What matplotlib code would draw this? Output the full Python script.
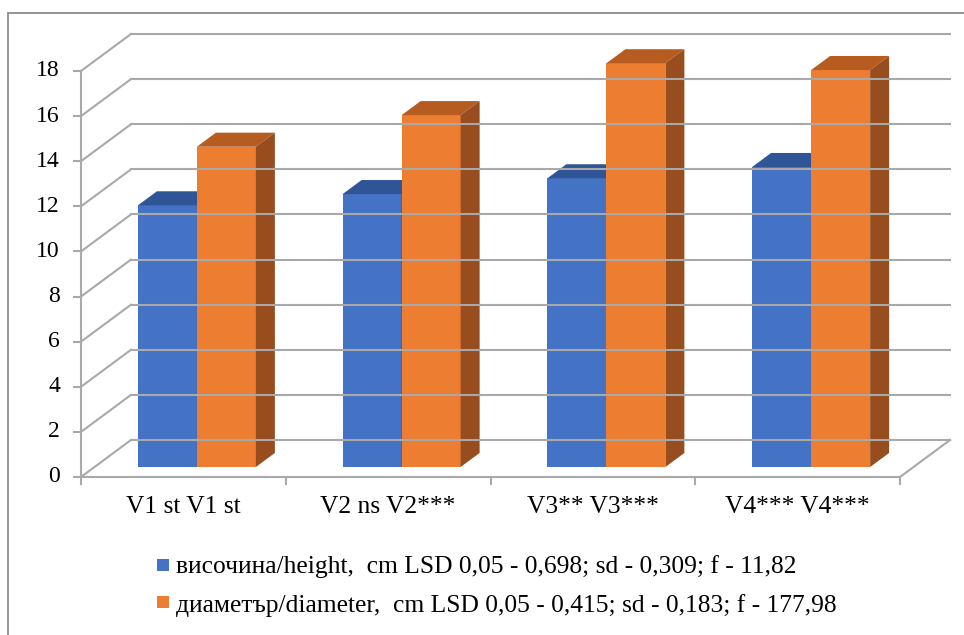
import matplotlib.pyplot as plt
from matplotlib.patches import Polygon, Rectangle

categories = ['V1 st V1 st', 'V2 ns V2***', 'V3** V3***', 'V4*** V4***']
height_cm = [11.6, 12.1, 12.8, 13.3]
diameter_cm = [14.2, 15.6, 17.9, 17.6]
series_labels = ['височина/height,  cm LSD 0,05 - 0,698; sd - 0,309; f - 11,82',
                 'диаметър/diameter,  cm LSD 0,05 - 0,415; sd - 0,183; f - 177,98']
yticks = list(range(0, 20, 2))

plt.rcParams['font.family'] = ['Liberation Serif', 'DejaVu Serif']

W, H = 964, 635
fig = plt.figure(figsize=(W / 100, H / 100), dpi=100)
ax = fig.add_axes([81 / W, (H - 477) / H, 819 / W, 406 / H])
ax.set_xlim(-0.5, 3.5)
ax.set_ylim(0, 18)
ax.axis('off')

# pixel -> data factors for the fake 3d depth
sx = 4 / 819
sy = 18 / 406
depth_x, depth_y = 50 * sx, 37 * sy

grid_c = '#a9a9a9'
lw = 1.5

# back wall + left wall gridlines
for v in yticks:
    ax.plot([-0.5, -0.5 + depth_x], [v, v + depth_y], color=grid_c, lw=lw, clip_on=False)
    ax.plot([-0.5 + depth_x, 3.5 + depth_x], [v + depth_y, v + depth_y],
            color=grid_c, lw=lw, clip_on=False)
    ax.plot([-0.5 - 7 * sx, -0.5], [v, v], color=grid_c, lw=lw, clip_on=False)
    ax.text(-0.5 - 21 * sx, v, str(v), ha='right', va='center', fontsize=17)

# floor and axes
ax.plot([-0.5, 3.5], [0, 0], color=grid_c, lw=lw, clip_on=False)
ax.plot([3.5, 3.5 + depth_x], [0, depth_y], color=grid_c, lw=lw, clip_on=False)
ax.plot([-0.5, -0.5], [0, 18], color=grid_c, lw=lw, clip_on=False)
for i in range(len(categories) + 1):
    ax.plot([i - 0.5, i - 0.5], [0, -7 * sy], color=grid_c, lw=lw, clip_on=False)
for i, c in enumerate(categories):
    ax.text(i, -30 * sy, c, ha='center', va='center', fontsize=18.4)

bw = 59 * sx
f0, f1 = 0.27, 0.65


def bar3d(x0, v, face, top, side):
    ox, oy = f0 * depth_x, f0 * depth_y
    bx, by = f1 * depth_x, f1 * depth_y
    ax.add_patch(Rectangle((x0 + ox, oy), bw, v, facecolor=face, edgecolor='none', clip_on=False))
    ax.add_patch(Polygon([(x0 + ox, v + oy), (x0 + bw + ox, v + oy),
                          (x0 + bw + bx, v + by), (x0 + bx, v + by)],
                         facecolor=top, edgecolor='none', clip_on=False))
    ax.add_patch(Polygon([(x0 + bw + ox, oy), (x0 + bw + ox, v + oy),
                          (x0 + bw + bx, v + by), (x0 + bw + bx, by)],
                         facecolor=side, edgecolor='none', clip_on=False))


for i in range(len(categories)):
    bar3d(i - bw, height_cm[i], '#4472C4', '#2F5597', '#2E4F8C')
    bar3d(i, diameter_cm[i], '#ED7D31', '#B65C20', '#974D1D')

# legend
for k, (lab, col) in enumerate(zip(series_labels, ['#4472C4', '#ED7D31'])):
    ypix = 565 + 37 * k
    fig.patches.append(Rectangle((157 / W, 1 - (ypix + 6) / H), 12 / W, 12 / H,
                                 facecolor=col, edgecolor='none', transform=fig.transFigure))
    fig.text(176 / W, 1 - (ypix + 2 + 2 * k) / H, lab, ha='left', va='center', fontsize=18.4)

# chart border
fig.patches.append(Rectangle((8 / W, -0.1), 1.2, 1 - 13 / H + 0.1, facecolor='none',
                             edgecolor='#8c8c8c', lw=1.3, transform=fig.transFigure))

fig.savefig('out.png', dpi=100)
